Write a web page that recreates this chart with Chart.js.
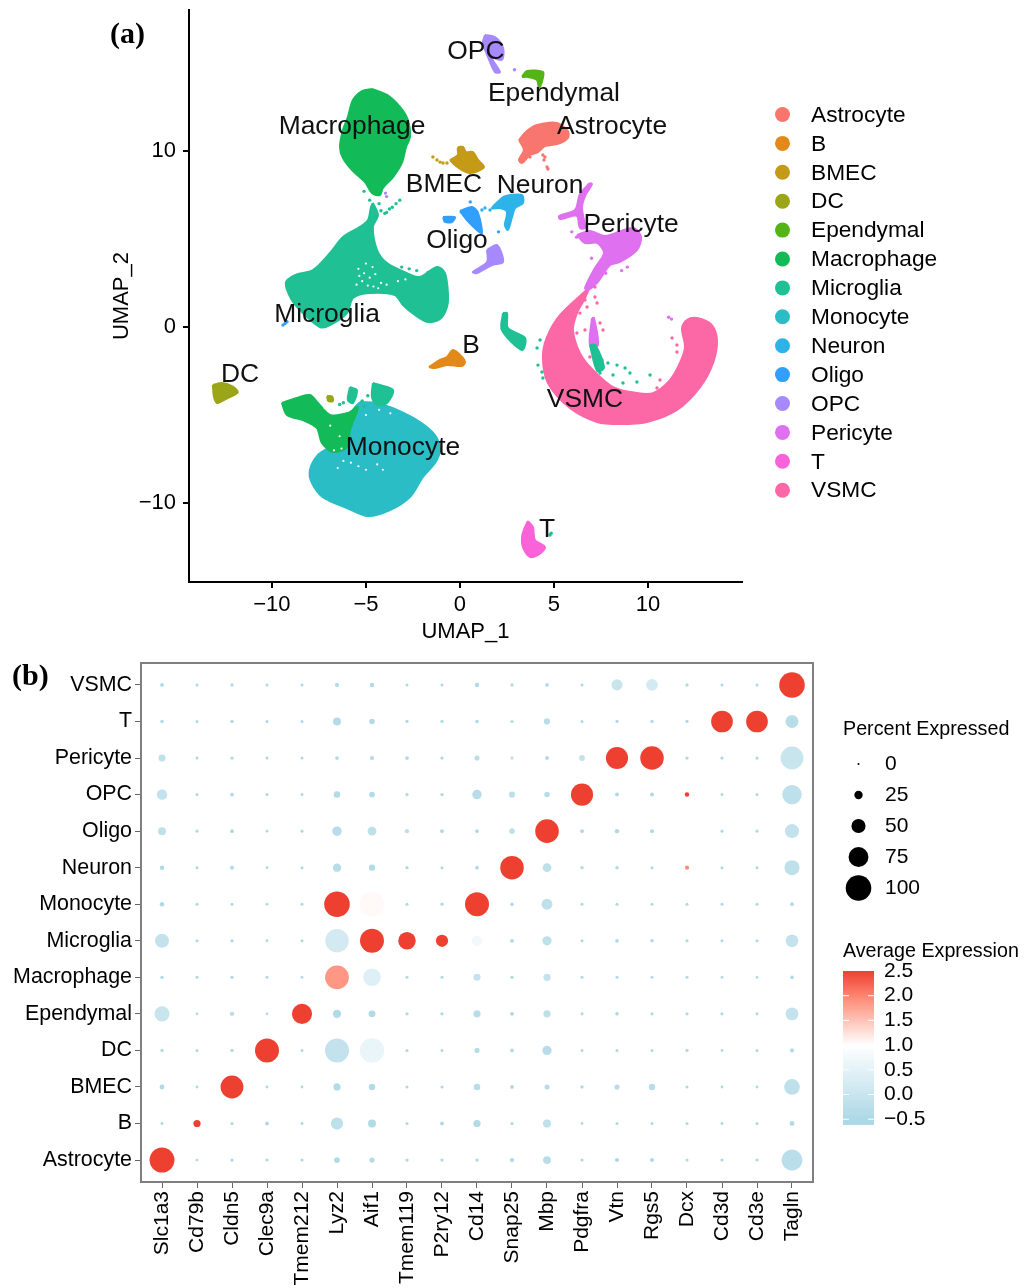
<!DOCTYPE html>
<html>
<head>
<meta charset="utf-8">
<title>UMAP and dot plot</title>
<script src="https://cdn.jsdelivr.net/npm/chart.js@4/dist/chart.umd.min.js"></script>
<style>
  body { margin: 0; background: #fff; }
  canvas { position: absolute; left: 0; }
  #umapChart { top: 0; }
  #dotChart { top: 640px; }
</style>
</head>
<body>
<canvas id="umapChart" width="1024" height="650"></canvas>
<canvas id="dotChart" width="1024" height="648"></canvas>
<script>
// ---- panel (a) data, UMAP coordinates ----
const clusterNames = ['Astrocyte','B','BMEC','DC','Ependymal','Macrophage','Microglia','Monocyte','Neuron','Oligo','OPC','Pericyte','T','VSMC'];
const clusterColors = ['#F8766D','#E2891A','#C49A17','#9AA517','#53B416','#12BB58','#1FC094','#2ABDC6','#2EB3E9','#319FFC','#A68AFD','#DF70F0','#F962D8','#FC67A6'];
const labelX = [8.09,0.59,-0.85,-11.7,5.0,-5.74,-7.07,-3.03,4.26,-0.16,0.85,9.1,4.63,6.65];
const labelY = [11.46,-0.96,8.17,-2.61,13.34,11.46,0.79,-6.75,8.12,4.99,15.72,5.9,-11.41,-4.03];
const umapXTicks = [-10,-5,0,5,10];
const umapYTicks = [-10,0,10];

const monocyteOutline = [[-5.32,-4.26],[-4.41,-4.31],[-3.35,-4.71],[-2.13,-5.39],[-1.33,-6.13],[-1.06,-6.98],[-1.33,-7.72],[-1.97,-8.51],[-2.66,-9.65],[-3.72,-10.39],[-4.89,-10.73],[-6.01,-10.27],[-7.29,-9.65],[-7.87,-8.85],[-7.98,-8.12],[-7.55,-7.26],[-6.91,-6.81],[-6.12,-6.02],[-5.85,-5.28],[-5.69,-4.71]];
const macrophageOutline = [[-4.68,13.51],[-3.88,13.17],[-3.19,12.49],[-2.77,11.75],[-2.66,10.78],[-2.87,10.22],[-3.09,9.31],[-3.56,8.51],[-4.1,7.89],[-4.26,7.49],[-4.68,7.6],[-5.05,8.23],[-5.74,8.91],[-6.22,9.59],[-6.38,10.22],[-6.22,11.18],[-5.96,11.92],[-5.69,12.88],[-5.21,13.39]];
const macrophageArm = [[-9.47,-4.31],[-8.51,-3.97],[-7.98,-3.86],[-7.55,-4.31],[-6.91,-4.99],[-5.96,-4.88],[-5.43,-4.54],[-5.85,-5.85],[-6.01,-6.81],[-6.76,-7.09],[-7.34,-6.58],[-7.61,-5.73],[-8.35,-5.28],[-9.2,-4.99]];
const microgliaOutline = [[-4.63,7.04],[-4.36,6.36],[-4.63,5.68],[-4.41,4.37],[-3.88,3.63],[-2.82,3.06],[-2.13,2.84],[-1.22,3.41],[-0.8,3.06],[-0.64,1.93],[-0.69,1.14],[-1.06,0.45],[-1.7,0.28],[-2.39,0.68],[-3.03,1.25],[-3.46,1.82],[-4.79,1.93],[-5.69,1.65],[-6.01,0.79],[-6.91,0.11],[-7.45,0],[-8.35,0.79],[-8.94,1.53],[-9.26,2.5],[-8.78,2.95],[-7.82,3.23],[-6.91,4.2],[-6.22,5.11],[-5.32,5.68],[-4.89,6.07],[-4.73,6.81]];
const microgliaCap = [[-4.63,-3.18],[-4.26,-3.29],[-3.56,-3.58],[-3.88,-4.31],[-4.41,-4.43],[-4.68,-3.97]];
const microgliaPatch = [[-5.85,-3.41],[-5.48,-3.58],[-5.69,-4.31],[-5.96,-4.14]];
const microgliaStreak = [[2.29,0.79],[2.23,-0.17],[3.3,-1.31],[3.46,-0.62],[2.55,-0.06],[2.5,0.79]];
const microgliaCore = [[6.91,-1.02],[7.2,-1.02],[7.66,-2.3],[7.3,-2.5]];
const dcOutline = [[-13.14,-3.29],[-12.66,-3.18],[-12.13,-3.35],[-11.81,-3.69],[-12.23,-3.97],[-12.66,-4.2],[-12.93,-4.31],[-13.09,-3.92]];
const dcPatch = [[-7.07,-3.92],[-6.8,-3.95],[-6.76,-4.2],[-7.0,-4.2]];
const bOutline = [[-1.65,-2.27],[-1.06,-1.87],[-0.69,-1.7],[-0.37,-1.31],[0.11,-1.7],[0.27,-1.99],[0.11,-2.21],[-0.69,-2.16],[-1.33,-2.33]];
const vsmcOutline = [[6.91,2.27],[5.32,0.68],[4.63,-0.57],[4.41,-1.7],[4.68,-3.18],[5.85,-4.6],[7.29,-5.39],[8.51,-5.51],[9.95,-5.39],[11.54,-4.71],[12.77,-3.41],[13.46,-2.04],[13.67,-0.74],[13.4,0.11],[12.61,0.51],[12.07,0.4],[11.81,-0.06],[11.97,-1.14],[11.7,-2.04],[11.17,-3.01],[10.27,-3.75],[9.41,-3.75],[8.14,-3.41],[7.07,-2.44],[6.38,-1.48],[6.01,-0.17],[6.22,0.79],[6.65,1.65]];
const pericyteBody = [[6.22,5.22],[6.91,5.45],[7.71,5.16],[9.2,5.62],[9.63,5.11],[9.41,4.37],[8.51,3.69],[7.98,3.52],[7.29,2.5],[6.81,2.1],[6.65,2.21],[7.18,3.35],[7.66,4.2],[7.29,4.77],[6.65,4.77]];
const pericyteStem = [[6.91,8.17],[7.02,8.11],[6.65,7.43],[6.49,6.75],[6.65,5.62],[6.38,5.62],[6.22,6.3],[5.59,6.19],[5.32,6.13],[5.27,6.3],[6.12,6.64],[6.38,7.55]];
const pericyteCore = [[7.02,0.51],[7.13,0.51],[7.34,-1.02],[6.91,-1.02]];
const tOutline = [[3.62,-11.01],[3.88,-11.35],[3.99,-12.09],[4.52,-12.49],[4.15,-12.94],[3.72,-13.05],[3.35,-12.49],[3.3,-11.92],[3.46,-11.35]];
const opcTop = [[1.33,16.57],[1.86,16.46],[2.29,15.84],[2.23,15.16],[1.7,15.27],[2.13,14.47],[1.86,14.47],[1.49,15.33],[1.22,16.12]];
const opcLower = [[1.44,4.37],[1.97,4.65],[2.29,3.69],[1.7,3.52],[0.9,3.06],[0.69,3.12],[1.44,3.69]];
const ependymalOutline = [[3.3,14.19],[3.56,14.53],[4.41,14.47],[4.41,14.13],[4.2,13.56],[4.1,14.02],[3.62,14.19]];
const astrocyteOutline = [[3.14,10.61],[3.56,11.12],[4.1,11.46],[5.16,11.58],[5.74,11.12],[5.74,10.73],[5.21,10.39],[4.52,10.27],[4.15,9.93],[3.72,9.76],[3.3,9.31],[3.14,9.48],[3.4,10.05]];
const bmecOutline = [[-0.53,9.48],[-0.11,9.76],[-0.11,10.16],[0.16,10.22],[0.32,9.93],[0.69,9.93],[0.96,9.48],[1.28,9.08],[0.96,8.85],[0.53,8.74],[0.11,8.91],[-0.27,9.19]];
const neuronOutline = [[2.29,7.38],[2.66,7.49],[3.3,7.49],[3.35,7.04],[2.93,6.75],[2.77,6.24],[2.55,5.51],[2.39,5.79],[2.5,6.53],[2.13,6.75],[1.7,6.75]];
const oligoOutline = [[0,6.58],[0.64,6.81],[0.96,6.47],[1.17,5.33],[0.9,5.51],[0.37,6.07]];
const oligoPatch = [[-0.9,6.24],[-0.27,6.24],[-0.43,5.96],[-0.8,5.96]];

const microgliaStrays = [[8.35,-2.16],[8.78,-2.33],[9.04,-2.61],[8.14,-2.72],[8.67,-3.18],[9.41,-3.12],[10.11,-2.72],[7.87,-2.04],[7.55,-1.87],[7.45,-2.61],[4.26,-0.74],[4.1,-1.19],[4.15,-2.16],[4.36,-2.55],[4.41,-2.89],[4.79,-11.8],[4.85,-11.7],[-3.6,6.8],[-3.2,7.2],[-3.9,6.5],[-4.3,7.0],[-5.1,7.7],[-4.8,7.2],[-4.2,6.6],[-4.0,6.45],[-3.75,6.7],[-3.4,7.0],[-5.2,-4.2],[-5.1,-4.5],[-6.2,-4.3],[-6.4,-4.4],[-4.9,-3.9],[-3.1,3.4],[-2.7,3.3],[-2.3,3.2],[-1.7,3.1]];
const vsmcStrays = [[6.38,0.79],[6.65,-0.17],[7.29,1.36],[7.61,-0.17],[7.45,0.23],[6.22,-0.34],[6.91,-1.7],[10.64,-3.01],[11.54,-1.02],[11.28,-0.62],[11.54,-1.42],[10.48,-3.46],[6.76,1.14],[7.18,2.27],[7.18,1.7],[6.65,1.53]];
const pericyteStrays = [[7.75,3.05],[7.4,3.4],[7.0,3.9],[7.8,3.9],[8.6,3.2],[8.9,3.4],[11.1,0.55],[11.25,0.45],[5.95,5.4],[6.2,5.1]];
const astrocyteStrays = [[4.52,9.65],[4.63,9.08],[4.68,8.97],[4.41,9.76],[4.47,9.48],[3.88,10.16],[3.72,9.65]];
const bmecStrays = [[-1.44,9.65],[-1.22,9.48],[-1.06,9.36],[-0.9,9.31],[-0.69,9.31]];
const neuronStrays = [[1.17,6.64],[1.33,6.75],[1.6,6.64]];
const oligoStrays = [[-9.41,0.11],[-9.3,0.2],[-9.2,0.3],[2.05,5.4],[0.55,7.1]];
const opcStrays = [[2.9,14.6],[-3.96,7.6],[-3.9,7.4]];
// little white gaps inside the dense clouds
const cloudGaps = [[-5.4,3.3],[-5.0,3.6],[-4.8,2.8],[-5.2,2.6],[-4.5,3.0],[-4.6,2.3],[-5.5,2.4],[-4.2,2.5],[-3.9,2.4],[-3.3,2.6],[-5.1,3.05],[-4.9,2.35],[-5.35,2.9],[-4.65,3.4],[-4.35,2.2],[-2.9,2.7],[-6.5,-8.0],[-6.2,-7.6],[-5.4,-7.9],[-5.0,-8.1],[-4.4,-7.8],[-4.1,-8.1],[-5.8,-7.7],[-6.7,-7.0],[-6.3,-6.9],[-7.2,-4.6],[-6.9,-5.6],[-6.4,-6.2],[-5.0,-5.0],[-4.3,-4.7],[-3.7,-4.9]];

// ---- panel (b) data ----
const genes = ['Slc1a3','Cd79b','Cldn5','Clec9a','Tmem212','Lyz2','Aif1','Tmem119','P2ry12','Cd14','Snap25','Mbp','Pdgfra','Vtn','Rgs5','Dcx','Cd3d','Cd3e','Tagln'];
const cellTypes = ['Astrocyte','B','BMEC','DC','Ependymal','Macrophage','Microglia','Monocyte','Neuron','Oligo','OPC','Pericyte','T','VSMC'];

const pctAstrocyte = [97,1,3,2,2,14,11,3,3,3,7,23,2,6,6,2,2,2,80];
const pctB = [2,20,3,6,2,42,23,2,6,20,3,23,1,2,2,2,2,2,10];
const pctBMEC = [10,1,88,1,1,20,17,2,2,17,5,11,3,11,17,2,1,1,57];
const pctDC = [3,2,3,93,2,93,95,2,2,11,5,29,2,2,2,3,1,2,7];
const pctEpendymal = [54,1,8,1,76,25,19,3,3,20,6,20,2,4,3,2,2,2,45];
const pctMacrophage = [3,2,3,2,1,92,65,2,2,19,3,20,2,2,2,2,1,1,5];
const pctMicroglia = [50,2,3,1,2,91,93,65,42,34,5,29,2,5,4,2,2,2,44];
const pctMonocyte = [8,2,2,1,2,100,98,2,3,93,4,36,2,2,2,2,2,2,5];
const pctNeuron = [8,2,6,1,2,25,16,3,2,5,91,27,3,4,2,7,2,2,54];
const pctOligo = [23,2,5,1,2,30,27,7,5,5,13,91,5,8,6,3,2,2,50];
const pctOPC = [34,2,5,2,2,17,14,3,3,30,16,13,85,6,6,8,2,2,73];
const pctPericyte = [19,2,3,2,2,5,7,5,3,11,4,6,14,85,91,3,3,3,88];
const pctT = [4,2,3,2,2,23,13,3,3,4,2,16,2,3,3,3,83,83,45];
const pctVSMC = [5,2,3,2,2,7,8,2,2,8,3,5,2,37,40,3,2,2,100];
const percentRows = [pctAstrocyte,pctB,pctBMEC,pctDC,pctEpendymal,pctMacrophage,pctMicroglia,pctMonocyte,pctNeuron,pctOligo,pctOPC,pctPericyte,pctT,pctVSMC];

const avgAstrocyte = [2.5,-.45,-.45,-.45,-.45,-.4,-.4,-.45,-.45,-.45,-.45,-.3,-.45,-.45,-.45,-.45,-.45,-.45,-.25];
const avgB = [-.45,2.5,-.45,-.45,-.45,-.2,-.4,-.45,-.45,-.4,-.45,-.2,-.45,-.45,-.45,-.45,-.45,-.45,-.4];
const avgBMEC = [-.45,-.45,2.5,-.45,-.45,-.4,-.4,-.45,-.45,-.3,-.45,-.3,-.45,-.3,-.3,-.45,-.45,-.45,-.2];
const avgDC = [-.45,-.45,-.45,2.5,-.45,-.1,.6,-.45,-.45,-.3,-.45,-.3,-.45,-.45,-.45,-.45,-.45,-.45,-.4];
const avgEpendymal = [0,-.45,-.3,-.45,2.5,-.4,-.4,-.45,-.45,-.3,-.45,-.2,-.45,-.45,-.45,-.45,-.45,-.45,-.1];
const avgMacrophage = [-.45,-.45,-.45,-.45,-.45,1.85,.4,-.45,-.45,-.1,-.45,-.1,-.45,-.45,-.45,-.45,-.45,-.45,-.4];
const avgMicroglia = [-.1,-.45,-.45,-.45,-.45,.2,2.5,2.5,2.5,.75,-.45,-.2,-.45,-.45,-.45,-.45,-.45,-.45,-.1];
const avgMonocyte = [-.45,-.45,-.45,-.45,-.45,2.5,1.05,-.45,-.45,2.5,-.45,-.2,-.45,-.45,-.45,-.45,-.45,-.45,-.4];
const avgNeuron = [-.45,-.45,-.45,-.45,-.45,-.3,-.4,-.45,-.45,-.45,2.5,-.2,-.45,-.45,-.45,1.95,-.45,-.45,-.2];
const avgOligo = [-.2,-.45,-.45,-.45,-.45,-.3,-.2,-.2,-.45,-.45,-.2,2.5,-.45,-.45,-.45,.95,-.45,-.45,-.1];
const avgOPC = [-.1,-.45,-.45,-.45,-.45,-.4,-.4,-.45,-.45,-.3,-.2,-.3,2.5,-.45,-.45,2.5,-.45,-.45,-.2];
const avgPericyte = [-.2,-.45,-.45,-.45,-.45,-.4,-.4,-.45,-.45,-.3,-.1,-.4,-.1,2.5,2.5,-.45,-.45,-.45,0];
const avgT = [-.45,-.45,-.45,-.45,-.45,-.4,-.4,-.45,-.45,-.45,-.45,-.3,-.45,-.45,-.45,-.45,2.5,2.5,-.3];
const avgVSMC = [-.45,-.45,-.45,-.45,-.45,-.4,-.4,-.45,-.45,-.4,-.45,-.4,-.45,0,.2,-.45,-.45,-.45,2.5];
const averageRows = [avgAstrocyte,avgB,avgBMEC,avgDC,avgEpendymal,avgMacrophage,avgMicroglia,avgMonocyte,avgNeuron,avgOligo,avgOPC,avgPericyte,avgT,avgVSMC];

const sizeLegend = [0,25,50,75,100];
const colorTicks = [2.5,2,1.5,1,0.5,0,-0.5];

const sansFont = '"Liberation Sans", Arial, sans-serif';
const serifFont = '"Liberation Serif", serif';

function toPoints(list) { return list.map(p => ({x: p[0], y: p[1]})); }
function clusterColor(name) { return clusterColors[clusterNames.indexOf(name)]; }
function minusSign(v) { return String(v).replace('-', '\u2212'); }

// filled blob for a cluster outline
function blob(name, outline) {
  const color = clusterColor(name);
  return {
    label: name, data: toPoints(outline.concat([outline[0]])), showLine: true, fill: 'shape', tension: 0.3,
    backgroundColor: color, borderColor: color, borderWidth: 2, borderJoinStyle: 'round',
    pointRadius: 0
  };
}
// loose cells
function cells(name, list) {
  const color = name ? clusterColor(name) : '#ffffff';
  return {
    label: name || 'gaps', data: toPoints(list), showLine: false,
    pointRadius: name ? 1.7 : 1.1, pointBackgroundColor: color, pointBorderWidth: 0
  };
}

const umapDatasets = [
  blob('Monocyte', monocyteOutline), blob('VSMC', vsmcOutline), blob('Macrophage', macrophageOutline),
  blob('Macrophage', macrophageArm), blob('Microglia', microgliaOutline), blob('Microglia', microgliaCap),
  blob('Microglia', microgliaPatch), blob('Microglia', microgliaStreak), blob('Pericyte', pericyteCore),
  blob('Microglia', microgliaCore), blob('DC', dcOutline), blob('DC', dcPatch), blob('B', bOutline),
  blob('Pericyte', pericyteBody), blob('Pericyte', pericyteStem), blob('T', tOutline), blob('OPC', opcTop),
  blob('OPC', opcLower), blob('Ependymal', ependymalOutline), blob('Astrocyte', astrocyteOutline),
  blob('BMEC', bmecOutline), blob('Neuron', neuronOutline), blob('Oligo', oligoOutline), blob('Oligo', oligoPatch),
  cells('Microglia', microgliaStrays), cells('VSMC', vsmcStrays), cells('Pericyte', pericyteStrays),
  cells('Astrocyte', astrocyteStrays), cells('BMEC', bmecStrays), cells('Neuron', neuronStrays),
  cells('Oligo', oligoStrays), cells('OPC', opcStrays), cells(null, cloudGaps)
];
// chart.js paints the first dataset last, so flip it: later entries sit on top
umapDatasets.forEach((d, i) => { d.order = -i; });

const umapExtras = {
  id: 'umapExtras',
  afterDatasetsDraw(chart) {
    const ctx = chart.ctx, xs = chart.scales.x, ys = chart.scales.y;
    ctx.save();
    ctx.fillStyle = '#111';
    ctx.textBaseline = 'middle';
    ctx.textAlign = 'center';
    ctx.font = '26.4px ' + sansFont;
    clusterNames.forEach((name, i) => {
      // +2: middle baseline sits a little high for this font
      ctx.fillText(name, xs.getPixelForValue(labelX[i]), ys.getPixelForValue(labelY[i]) + 2);
    });
    // colour key on the right
    ctx.textAlign = 'left';
    ctx.font = '22.7px ' + sansFont;
    clusterNames.forEach((name, i) => {
      const y = 114.5 + i * 28.9;
      ctx.fillStyle = clusterColors[i];
      ctx.beginPath();
      ctx.arc(782.5, y, 7.5, 0, Math.PI * 2);
      ctx.fill();
      ctx.fillStyle = '#000';
      ctx.fillText(name, 811, y + 1);
    });
    ctx.font = 'bold 30px ' + serifFont;
    ctx.fillText('(a)', 110, 35);
    ctx.restore();
  }
};

new Chart(document.getElementById('umapChart'), {
  type: 'scatter',
  data: { datasets: umapDatasets },
  plugins: [umapExtras],
  options: {
    responsive: false,
    animation: false,
    layout: { padding: { left: 109, top: 10, right: 282, bottom: 0 } },
    plugins: { legend: { display: false }, tooltip: { enabled: false } },
    scales: {
      x: {
        min: -14.41, max: 15,
        afterFit(s) { s.height = 68; s.paddingLeft = 0; s.paddingRight = 0; },
        afterBuildTicks(s) { s.ticks = umapXTicks.map(v => ({ value: v })); },
        grid: { drawOnChartArea: false, color: '#000', lineWidth: 2, tickLength: 6 },
        border: { color: '#000', width: 2 },
        ticks: {
          color: '#000', padding: 4, maxRotation: 0,
          font: { family: sansFont, size: 22 },
          callback: minusSign
        },
        title: { display: true, text: 'UMAP_1', color: '#000', font: { family: sansFont, size: 22 }, padding: { top: 0, bottom: 5 } }
      },
      y: {
        min: -14.47, max: 17.99,
        // the tick labels would otherwise push the plot top down
        afterFit(s) { s.width = 80; s.paddingTop = 0; s.paddingBottom = 0; },
        afterBuildTicks(s) { s.ticks = umapYTicks.map(v => ({ value: v })); },
        grid: { drawOnChartArea: false, color: '#000', lineWidth: 2, tickLength: 6 },
        border: { color: '#000', width: 2 },
        ticks: {
          color: '#000', padding: 7,
          font: { family: sansFont, size: 22 },
          callback: minusSign
        },
        title: { display: true, text: 'UMAP_2', color: '#000', font: { family: sansFont, size: 22 }, padding: 0 }
      }
    }
  }
});

// ---- panel (b) helpers ----
function radiusFor(pct) { return 1.3 + 0.115 * pct; }

const colorStops = [[-0.5,173,216,230],[1,255,255,255],[1.9,255,145,125],[2.5,238,64,48]];
function colorFor(value) {
  for (let i = 1; i < colorStops.length; i++) {
    const a = colorStops[i - 1], b = colorStops[i];
    if (value <= b[0]) {
      const t = Math.max(0, (value - a[0]) / (b[0] - a[0]));
      return 'rgb(' + [1, 2, 3].map(k => Math.round(a[k] + (b[k] - a[k]) * t)).join(',') + ')';
    }
  }
  return 'rgb(238,64,48)';
}

const dotData = [];
const dotColors = [];
percentRows.forEach((row, y) => {
  row.forEach((pct, x) => {
    dotData.push({ x: x, y: y, r: radiusFor(pct) });
    dotColors.push(colorFor(averageRows[y][x]));
  });
});

const dotExtras = {
  id: 'dotExtras',
  afterDraw(chart) {
    const ctx = chart.ctx, area = chart.chartArea, top = 640;
    ctx.save();
    // panel frame
    ctx.strokeStyle = '#7f7f7f';
    ctx.lineWidth = 2;
    ctx.strokeRect(area.left, area.top, area.right - area.left, area.bottom - area.top);

    ctx.fillStyle = '#000';
    ctx.textBaseline = 'middle';
    ctx.textAlign = 'left';
    ctx.font = 'bold 30px ' + serifFont;
    ctx.fillText('(b)', 12, 677 - top);

    // size key
    ctx.font = '19.7px ' + sansFont;
    ctx.fillText('Percent Expressed', 843, 730 - top);
    ctx.font = '21px ' + sansFont;
    sizeLegend.forEach((pct, i) => {
      const y = 764 + i * 31 - top;
      ctx.beginPath();
      ctx.arc(858.5, y, pct === 0 ? 1 : radiusFor(pct), 0, Math.PI * 2);
      ctx.fill();
      ctx.fillText(String(pct), 885, y);
    });

    // colour bar
    ctx.font = '19.7px ' + sansFont;
    ctx.fillText('Average Expression', 843, 952 - top);
    const barTop = 971 - top, barBottom = 1125 - top, step = 49.4;
    const grad = ctx.createLinearGradient(0, barTop, 0, barBottom);
    const perUnit = barBottom - barTop;
    colorStops.forEach(s => {
      const pos = ((2.5 - s[0]) * step) / perUnit;
      grad.addColorStop(pos, 'rgb(' + s[1] + ',' + s[2] + ',' + s[3] + ')');
    });
    grad.addColorStop(1, 'rgb(173,216,230)');
    ctx.fillStyle = grad;
    ctx.fillRect(843, barTop, 31, barBottom - barTop);
    ctx.font = '21px ' + sansFont;
    colorTicks.forEach(v => {
      const y = barTop + (2.5 - v) * step;
      if (v < 2.5) {
        ctx.fillStyle = '#fff';
        ctx.fillRect(843, y - 0.5, 6, 1);
        ctx.fillRect(868, y - 0.5, 6, 1);
      }
      ctx.fillStyle = '#000';
      ctx.fillText(v < 0 ? '\u2212' + Math.abs(v).toFixed(1) : v.toFixed(1), 884, y);
    });
    ctx.restore();
  }
};

new Chart(document.getElementById('dotChart'), {
  type: 'bubble',
  data: { datasets: [{ label: 'dots', data: dotData, backgroundColor: dotColors, borderWidth: 0 }] },
  plugins: [dotExtras],
  options: {
    responsive: false,
    animation: false,
    layout: { padding: { left: 0, top: 23, right: 211, bottom: 0 } },
    plugins: { legend: { display: false }, tooltip: { enabled: false } },
    scales: {
      x: {
        min: -0.6, max: 18.6,
        afterFit(s) { s.height = 106; },
        afterBuildTicks(s) { s.ticks = genes.map((g, i) => ({ value: i })); },
        grid: { drawOnChartArea: false, color: '#666', lineWidth: 1, tickLength: 6 },
        border: { color: '#7f7f7f', width: 2 },
        ticks: {
          autoSkip: false, minRotation: 90, maxRotation: 90, color: '#000', padding: 3,
          font: { family: sansFont, size: 21 },
          callback: v => genes[v]
        }
      },
      y: {
        min: -0.6, max: 13.6,
        afterFit(s) { s.width = 141; },
        afterBuildTicks(s) { s.ticks = cellTypes.map((c, i) => ({ value: i })); },
        grid: { drawOnChartArea: false, color: '#666', lineWidth: 1, tickLength: 6 },
        border: { color: '#7f7f7f', width: 2 },
        ticks: {
          autoSkip: false, color: '#000', padding: 3,
          font: { family: sansFont, size: 21.4 },
          callback: v => cellTypes[v]
        }
      }
    }
  }
});
</script>
</body>
</html>
